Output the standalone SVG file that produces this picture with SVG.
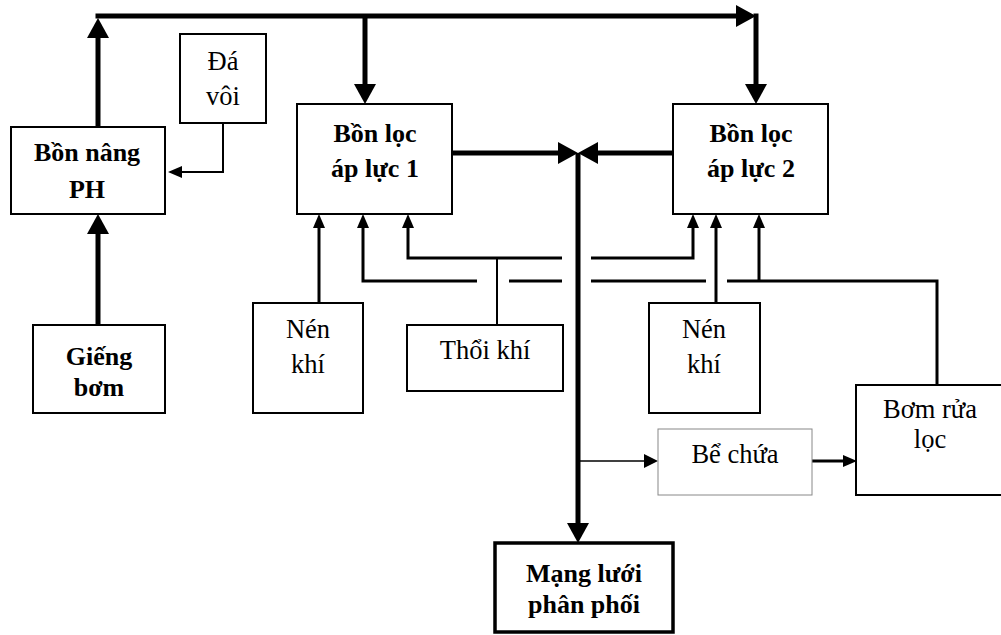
<svg xmlns="http://www.w3.org/2000/svg" width="1001" height="635" viewBox="0 0 1001 635">
<style>
.box{fill:#fff;stroke:#000;stroke-width:2}
.t{font-family:"Liberation Serif","Times New Roman",serif;font-size:26.5px;fill:#000;text-anchor:middle}
.b{font-weight:bold;font-size:26px}
.thick{fill:none;stroke:#000;stroke-width:5}
.mid{fill:none;stroke:#000;stroke-width:3}
.thin{fill:none;stroke:#000;stroke-width:2}
.hair{fill:none;stroke:#000;stroke-width:1.5}
</style>
<defs>
<marker id="aT" markerUnits="userSpaceOnUse" markerWidth="20" markerHeight="22" viewBox="0 -11 20 22" refX="0" refY="0" orient="auto"><path d="M0,-11 L20,0 L0,11 z" fill="#000"/></marker>
<marker id="aM" markerUnits="userSpaceOnUse" markerWidth="14" markerHeight="14" viewBox="0 -7 14 14" refX="0" refY="0" orient="auto"><path d="M0,-7 L14,0 L0,7 z" fill="#000"/></marker>
<marker id="aS" markerUnits="userSpaceOnUse" markerWidth="14" markerHeight="12" viewBox="0 -6 14 12" refX="0" refY="0" orient="auto"><path d="M0,-6 L14,0 L0,6 z" fill="#000"/></marker>
</defs>
<g id="connectors">
<path class="thick" d="M98,127 V38" marker-end="url(#aT)"/>
<path class="thick" d="M95.5,16 H736" marker-end="url(#aT)"/>
<path class="thick" d="M756,13.5 V84" marker-end="url(#aT)"/>
<path class="thick" d="M365,16 V84" marker-end="url(#aT)"/>
<path class="thick" d="M98,325 V234" marker-end="url(#aT)"/>
<path class="thick" d="M452,153 H558" marker-end="url(#aT)"/>
<path class="thick" d="M673,153 H598" marker-end="url(#aT)"/>
<path class="thick" d="M578,153 V523" marker-end="url(#aT)"/>
<path class="thin" d="M223,123 V172 H182" marker-end="url(#aS)"/>
<path class="mid" d="M319,303 V228" marker-end="url(#aS)"/>
<path class="mid" d="M477,281 H363 V228" marker-end="url(#aS)"/>
<path class="mid" d="M562,258 H408 V228" marker-end="url(#aS)"/>
<path class="thin" d="M497,325 V258"/>
<path class="mid" d="M591,258 H693 V228" marker-end="url(#aS)"/>
<path class="mid" d="M509,281 H562"/>
<path class="mid" d="M591,281 H706"/>
<path class="mid" d="M727,281 H937 V385"/>
<path class="mid" d="M759,281 V228" marker-end="url(#aS)"/>
<path class="mid" d="M716,303 V228" marker-end="url(#aS)"/>
<path class="hair" d="M578,461 H644" marker-end="url(#aM)"/>
<path class="mid" d="M812,461 H843" marker-end="url(#aS)"/>
</g>
<g id="bon-nang-ph"><rect class="box" x="11" y="127" width="154" height="87"/><text class="t b" x="87" y="161">Bồn nâng</text><text class="t b" x="87" y="198">PH</text></g>
<g id="da-voi"><rect class="box" x="180" y="34" width="86" height="89"/><text class="t" x="223" y="70">Đá</text><text class="t" x="223" y="105">vôi</text></g>
<g id="gieng-bom"><rect class="box" x="33" y="325" width="132" height="88"/><text class="t b" x="99" y="365">Giếng</text><text class="t b" x="99" y="396">bơm</text></g>
<g id="bon-loc-1"><rect class="box" x="297" y="104" width="155" height="110"/><text class="t b" x="375" y="142">Bồn lọc</text><text class="t b" x="375" y="177">áp lực 1</text></g>
<g id="bon-loc-2"><rect class="box" x="673" y="104" width="155" height="110"/><text class="t b" x="751" y="142">Bồn lọc</text><text class="t b" x="751" y="177">áp lực 2</text></g>
<g id="nen-khi-1"><rect class="box" x="253" y="303" width="110" height="110"/><text class="t" x="308" y="338">Nén</text><text class="t" x="308" y="373">khí</text></g>
<g id="thoi-khi"><rect class="box" x="407" y="325" width="156" height="66"/><text class="t" x="485" y="359">Thổi khí</text></g>
<g id="nen-khi-2"><rect class="box" x="649" y="303" width="111" height="110"/><text class="t" x="704" y="338">Nén</text><text class="t" x="704" y="373">khí</text></g>
<g id="bom-rua-loc"><rect class="box" x="856" y="385" width="150" height="110"/><text class="t" x="930" y="418">Bơm rửa</text><text class="t" x="930" y="448">lọc</text></g>
<g id="be-chua"><rect x="658" y="429" width="154" height="66" fill="#fff" stroke="#888" stroke-width="1"/><text class="t" x="735" y="463">Bể chứa</text></g>
<g id="mang-luoi"><rect x="495" y="543" width="178" height="89" fill="#fff" stroke="#000" stroke-width="3.5"/><text class="t b" x="584" y="582">Mạng lưới</text><text class="t b" x="584" y="613">phân phối</text></g>
</svg>
